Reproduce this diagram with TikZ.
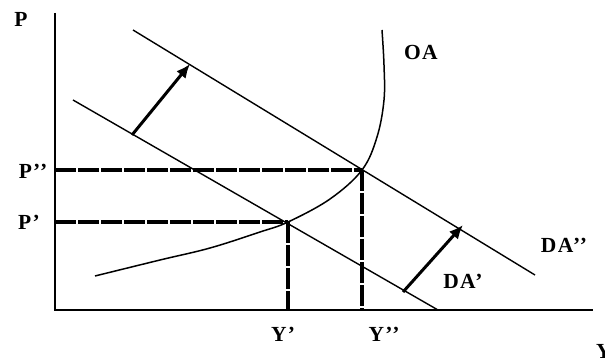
\documentclass[tikz,border=0pt]{standalone}
\usepackage{fontspec}
\setmainfont{Liberation Serif}
\usetikzlibrary{arrows.meta}
\tikzset{
  lbl/.style={font=\fontsize{21.5}{21.5}\selectfont\bfseries\addfontfeature{LetterSpace=6}, inner sep=0pt},
  demand/.style={line width=1.4pt},
  guide/.style={line width=3.4pt, dash pattern=on 21pt off 2pt},
  shiftarrow/.style={line width=3pt, -{Latex[length=14pt,width=12pt]}},
}
\begin{document}
\begin{tikzpicture}[x=1pt,y=-1pt]
\useasboundingbox (0,0) rectangle (605,358);
% axes
\coordinate (o) at (55,310);
\coordinate (ptop) at (55,13);
\coordinate (yend) at (593,310);
\draw[line width=1.6pt] (ptop) -- (o) -- (yend);
% demand lines
\coordinate (d1a) at (73,100);
\coordinate (d1b) at (438,310);
\coordinate (d2a) at (133,30);
\coordinate (d2b) at (535,275);
\draw[demand] (d1a) -- (d1b);
\draw[demand] (d2a) -- (d2b);
% OA curve
\draw[line width=1.5pt] plot[smooth, tension=0.6] coordinates {(95,276) (160,260) (210,248) (260,232) (288,222) (330,199) (362,170) (377,137) (384,100) (384,65) (382,30)};
% equilibrium points
\coordinate (e1) at (288,222);
\coordinate (e2) at (362,170);
\coordinate (p1) at (55,222);
\coordinate (p2) at (55,170);
\coordinate (y1) at (288,310);
\coordinate (y2) at (362,310);
\draw[guide] (p2) -- (e2);
\draw[guide] (p1) -- (e1);
\draw[guide] (e1) -- (y1);
\draw[guide] (e2) -- (y2);
% shift arrows
\coordinate (a1s) at (132,135);
\coordinate (a1e) at (190,64);
\coordinate (a2s) at (403,292);
\coordinate (a2e) at (463,225);
\draw[shiftarrow] (a1s) -- (a1e);
\draw[shiftarrow] (a2s) -- (a2e);
% labels
\node[lbl] (lP) at (21,19) {P};
\node[lbl] (lP2) at (33,171) {P’’};
\node[lbl] (lP1) at (29,222) {P’};
\node[lbl] (lY1) at (283,334) {Y’};
\node[lbl] (lY2) at (384,334) {Y’’};
\node[lbl, anchor=west] (lY) at (596,351) {Y};
\node[lbl] (lOA) at (421,52) {OA};
\node[lbl] (lDA2) at (564,245) {DA’’};
\node[lbl] (lDA1) at (463,281) {DA’};
\end{tikzpicture}
\end{document}
